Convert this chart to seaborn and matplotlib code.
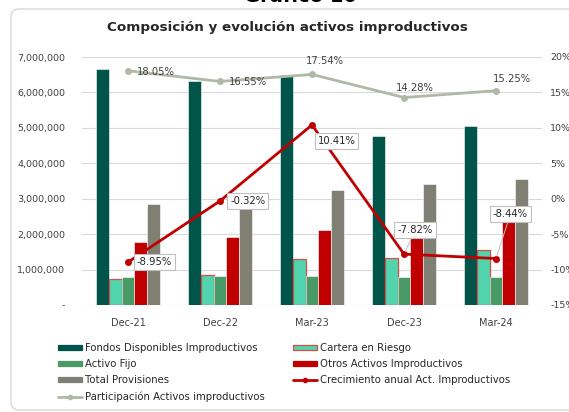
import numpy as np
import pandas as pd
import matplotlib
matplotlib.use("Agg")
import matplotlib.pyplot as plt
import seaborn as sns
from matplotlib.patches import FancyBboxPatch, Patch
from matplotlib.lines import Line2D
from matplotlib.ticker import FuncFormatter
from matplotlib.transforms import IdentityTransform

# ---------------- data ----------------
categories = ["Dec-21", "Dec-22", "Mar-23", "Dec-23", "Mar-24"]
fondos = [6650000, 6310000, 6480000, 4780000, 5050000]
cartera = [730000, 860000, 1300000, 1340000, 1550000]
activo_fijo = [780000, 820000, 810000, 790000, 800000]
otros = [1780000, 1920000, 2130000, 1900000, 2500000]
provisiones = [2850000, 3000000, 3250000, 3410000, 3550000]
participacion = [18.05, 16.55, 17.54, 14.28, 15.25]
crecimiento = [-8.95, -0.32, 10.41, -7.82, -8.44]

bar_names = ["Fondos Disponibles Improductivos", "Cartera en Riesgo", "Activo Fijo",
             "Otros Activos Improductivos", "Total Provisiones"]
line_crec = "Crecimiento anual Act. Improductivos"
line_part = "Participación Activos improductivos"
title = "Composición y evolución activos improductivos"
ytick_left = [0, 1000000, 2000000, 3000000, 4000000, 5000000, 6000000, 7000000]
ytick_right = [-15, -10, -5, 0, 5, 10, 15, 20]

bar_colors = ["#00544A", "#52D4AF", "#489A66", "#C00000", "#7F7F73"]
col_crec = "#C00000"
col_part = "#AFB9A5"

# ---------------- build ----------------
sns.set_theme(style="white")
plt.rcParams['font.family'] = ['DejaVu Sans']
W, H = 569, 412
fig = plt.figure(figsize=(W / 100, H / 100), dpi=100)

# border box
border = FancyBboxPatch((11, 2), 620, 401, boxstyle="round,pad=0,rounding_size=8",
                        transform=IdentityTransform(), fc="none", ec="#D9D9D9", lw=1.0)
fig.patches.append(border)

fig.text(300 / W, 1 - 2.5 / H, "Gráfico 10", ha="center", va="baseline",
         fontsize=14, fontweight="bold", color="#000000")
fig.text(287 / W, 1 - 27 / H, title, ha="center", va="center",
         fontsize=9.7, fontweight="bold", color="#262626")

ax = fig.add_axes([82 / W, 1 - 305 / H, 460 / W, 248 / H])

df = pd.DataFrame({
    "Periodo": categories * 5,
    "Serie": sum([[n] * len(categories) for n in bar_names], []),
    "Valor": fondos + cartera + activo_fijo + otros + provisiones,
})
sns.barplot(data=df, x="Periodo", y="Valor", hue="Serie", order=categories,
            hue_order=bar_names, palette=bar_colors, width=0.685, saturation=1,
            ax=ax, legend=False)
for i, cont in enumerate(ax.containers):
    for p in cont.patches:
        if i == 1:
            p.set_edgecolor("#E04A44")
            p.set_linewidth(0.9)
        else:
            p.set_edgecolor("white")
            p.set_linewidth(0.4)

ax.set_ylim(0, 7000000)
ax.set_yticks(ytick_left)
ax.yaxis.set_major_formatter(FuncFormatter(lambda v, p: "-" if v == 0 else f"{v:,.0f}"))
ax.grid(axis="y", color="#D9D9D9", lw=0.8)
ax.set_axisbelow(True)
for s in ax.spines.values():
    s.set_visible(False)
ax.tick_params(axis="both", length=0, labelsize=6.8, labelcolor="#404040")
ax.tick_params(axis="x", pad=9, labelsize=7)
ax.tick_params(axis="y", pad=12)
ax.set_xlabel("")
ax.set_ylabel("")

ax2 = ax.twinx()
dfl = pd.DataFrame({"Periodo": categories, "crec": crecimiento, "part": participacion})
sns.pointplot(data=dfl, x="Periodo", y="part", order=categories, color=col_part,
              markers="o", errorbar=None, ax=ax2, markersize=3.5, linewidth=2)
sns.pointplot(data=dfl, x="Periodo", y="crec", order=categories, color=col_crec,
              markers="o", errorbar=None, ax=ax2, markersize=3.5, linewidth=2)
ax2.set_ylim(-15, 20)
ax2.set_yticks(ytick_right)
ax2.yaxis.set_major_formatter(FuncFormatter(lambda v, p: f"{v:.0f}%"))
ax2.tick_params(axis="y", length=0, labelsize=6.8, labelcolor="#404040", pad=6)
ax2.set_ylabel("")
ax2.set_xlabel("")
ax2.grid(False)
for s in ax2.spines.values():
    s.set_visible(False)
ax.set_xlim(-0.5, 4.5)

# participation labels
part_off = [(20, -1), (20, -0.7), (9.4, 9.4), (8, 7), (11.5, 8.6)]
for i, v in enumerate(participacion):
    ax2.annotate(f"{v:.2f}%", xy=(i, v), xytext=part_off[i], textcoords="offset points",
                 ha="center", va="center", fontsize=7.2, color="#404040")

# growth labels
crec_off = [(19, 0), (20, 0), (17.6, -11.2), (8, 17.3), (10.4, 32)]
for i, v in enumerate(crecimiento):
    arrow = None
    if i >= 3:
        arrow = dict(arrowstyle="-", color="#BFBFBF", lw=0.7, shrinkA=0, shrinkB=2)
    ax2.annotate(f"{v:.2f}%", xy=(i, v), xytext=crec_off[i], textcoords="offset points",
                 ha="center", va="center", fontsize=7.2, color="#262626",
                 bbox=dict(boxstyle="square,pad=0.3", fc="white", ec="#BFBFBF", lw=0.8),
                 arrowprops=arrow)

# legends
def bar_handle(c, ec=None):
    return Patch(facecolor=c, edgecolor=ec if ec else c, lw=0.9)

h1 = [bar_handle(bar_colors[0]), bar_handle(bar_colors[2]), bar_handle(bar_colors[4]),
      Line2D([0], [0], color=col_part, lw=2, marker="o", markersize=3)]
l1 = [bar_names[0], bar_names[2], bar_names[4], line_part]
h2 = [bar_handle(bar_colors[1], "#E04A44"), bar_handle(bar_colors[3]),
      Line2D([0], [0], color=col_crec, lw=2, marker="o", markersize=3)]
l2 = [bar_names[1], bar_names[3], line_crec]
leg_kw = dict(loc="upper left", frameon=False, fontsize=7.3, borderaxespad=0, borderpad=0,
              handlelength=2.4, handleheight=0.5, handletextpad=0.3, labelspacing=0.6)
for t in (fig.legend(h1, l1, bbox_to_anchor=(58 / W, 1 - 343 / H), **leg_kw),
          fig.legend(h2, l2, bbox_to_anchor=(293 / W, 1 - 343 / H), **leg_kw)):
    for txt in t.get_texts():
        txt.set_color("#262626")

fig.savefig("out.png", dpi=100)
